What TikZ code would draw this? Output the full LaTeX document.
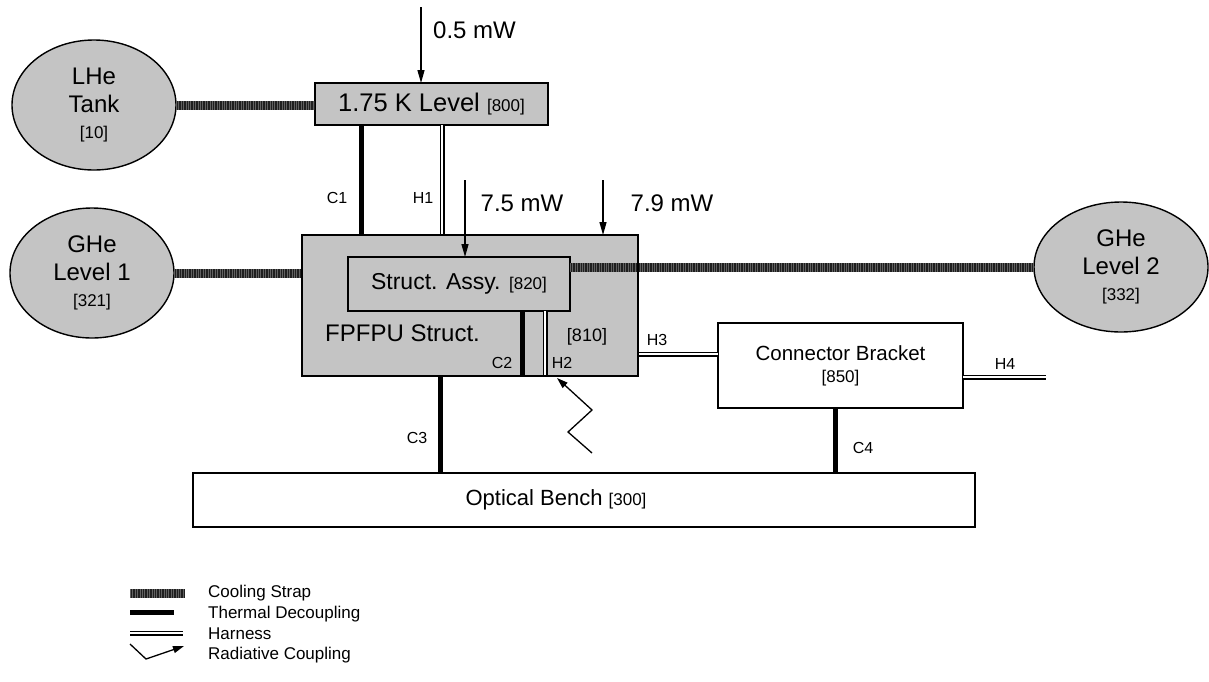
\documentclass[tikz,border=0pt]{standalone}
\usepackage{fontspec}
\setmainfont{Liberation Sans}
\usetikzlibrary{shapes.geometric,arrows.meta,calc}
\begin{document}
\begin{tikzpicture}[x=1pt,y=-1pt,
  boxfill/.style={draw,line width=1.4pt,fill=black!23,inner sep=0pt,outer sep=0pt},
  whitebox/.style={draw,line width=1.4pt,fill=white,inner sep=0pt,outer sep=0pt},
  ell/.style={ellipse,draw,line width=1.4pt,fill=black!23,inner sep=0pt,outer sep=0pt,align=center,
    font=\fontsize{24}{28}\selectfont},
  big/.style={font=\fontsize{24}{28}\selectfont},
  mid/.style={font=\fontsize{20.5}{24}\selectfont},
  lbl/.style={font=\fontsize{16}{18}\selectfont,inner sep=0pt},
  leg/.style={font=\fontsize{17}{19}\selectfont,inner sep=0pt,anchor=west},
  strap/.style={line width=9pt,draw=black!88},
  strapt/.style={line width=9pt,draw=black!62,dash pattern=on 0.8pt off 1.6pt},
  therm/.style={line width=5pt,draw=black},
  harn/.style={double,line width=1.2pt,double distance=2.6pt,draw=black},
  heat/.style={line width=1.3pt,-{Triangle[length=13pt,width=7pt]}},
  rad/.style={line width=1.3pt,-{Triangle[length=11pt,width=7pt]}}
]
\newcommand{\sm}{\fontsize{17}{19}\selectfont}
\useasboundingbox (0,0) rectangle (1209,681);

% ---- nodes ----
\node[ell,minimum width=164,minimum height=130] (lhe) at (94,105) {LHe\\Tank\\[-2pt]{\sm [10]}};
\node[ell,minimum width=164,minimum height=130] (ghe1) at (92,273) {GHe\\Level 1\\[-2pt]{\sm [321]}};
\node[ell,minimum width=174,minimum height=130] (ghe2) at (1121,267) {GHe\\Level 2\\[-2pt]{\sm [332]}};

\node[boxfill,minimum width=233,minimum height=42,font=\fontsize{25.5}{28}\selectfont] (k175) at (431.5,104) {1.75 K Level {\sm [800]}};
\node[boxfill,minimum width=336,minimum height=141] (fpfpu) at (470,305.5) {};
\node[boxfill,minimum width=222,minimum height=54,font=\fontsize{23}{27}\selectfont] (sa) at (459,284) {Struct. Assy. {\sm [820]}};
\node[whitebox,minimum width=245,minimum height=85,align=center,mid] (cb) at (840.5,365.5)
  {Connector Bracket\\[-2pt]{\sm [850]}};
\node[whitebox,minimum width=782,minimum height=54] (ob) at (584,500) {};

\node[big,anchor=west,inner sep=0pt] (fpt) at (325,333) {FPFPU Struct.};
\node[font=\fontsize{18}{20}\selectfont,inner sep=0pt] (t810) at (587,337) {[810]};
\node[font=\fontsize{22}{24}\selectfont,inner sep=0pt] (obt) at (556,500) {Optical Bench {\sm [300]}};

% ---- cooling straps ----
\draw[strap] (lhe.east) -- (lhe.east -| k175.west);
\draw[strapt] (lhe.east) -- (lhe.east -| k175.west);
\draw[strap] (ghe1.east) -- (ghe1.east -| fpfpu.west);
\draw[strapt] (ghe1.east) -- (ghe1.east -| fpfpu.west);
\draw[strap] (sa.east |- ghe2.west) -- (ghe2.west);
\draw[strapt] (sa.east |- ghe2.west) -- (ghe2.west);

% ---- couplings ----
\coordinate (c1x) at (361,0);
\coordinate (h1x) at (442,0);
\coordinate (c2x) at (522,0);
\coordinate (h2x) at (545,0);
\coordinate (c3x) at (440,0);
\coordinate (c4x) at (835,0);
\coordinate (h3y) at (0,354);
\coordinate (h4e) at (1046,377);

\draw[therm] (k175.south -| c1x) -- (fpfpu.north -| c1x);
\draw[harn] (k175.south -| h1x) -- (fpfpu.north -| h1x);
\draw[therm] (sa.south -| c2x) -- (fpfpu.south -| c2x);
\draw[harn] (sa.south -| h2x) -- (fpfpu.south -| h2x);
\draw[therm] (fpfpu.south -| c3x) -- (ob.north -| c3x);
\draw[harn] (fpfpu.east |- h3y) -- (cb.west |- h3y);
\draw[harn] (cb.east |- h4e) -- (h4e);
\draw[therm] (cb.south -| c4x) -- (ob.north -| c4x);

% ---- redraw box outline over lines ----
\draw[line width=1.4pt] (fpfpu.north west) rectangle (fpfpu.south east);

% ---- labels ----
\node[lbl] (lc1) at (337,198) {C1};
\node[lbl] (lh1) at (423,198) {H1};
\node[lbl] (lc2) at (502,363) {C2};
\node[lbl] (lh2) at (562,363) {H2};
\node[lbl] (lc3) at (417,438) {C3};
\node[lbl] (lh3) at (657,340) {H3};
\node[lbl] (lh4) at (1005,364) {H4};
\node[lbl] (lc4) at (863,448) {C4};

% ---- heat loads ----
\coordinate (q05) at (421,7);
\coordinate (q75) at (465,180);
\coordinate (q79) at (603,180);
\draw[heat] (q05) -- (q05 |- k175.north);
\draw[heat] (q75) -- (q75 |- sa.north);
\draw[heat] (q79) -- (q79 |- fpfpu.north);
\node[big,anchor=west,inner sep=0pt] (t05) at (433,30) {0.5 mW};
\node[big,inner sep=0pt] (t75) at (522,203) {7.5 mW};
\node[big,inner sep=0pt] (t79) at (672,203) {7.9 mW};

% ---- radiative coupling ----
\coordinate (r0) at (592,453);
\coordinate (r1) at (568,432);
\coordinate (r2) at (592,410);
\coordinate (r3) at (557,378);
\draw[rad] (r0) -- (r1) -- (r2) -- (r3);

% ---- legend ----
\coordinate (g1) at (130,593);
\coordinate (g2) at (130,612);
\coordinate (g3) at (130,633);
\coordinate (g4) at (130,644);
\draw[strap] (g1) -- ++(55,0);
\draw[strapt] (g1) -- ++(55,0);
\draw[therm] (g2) -- ++(44,0);
\draw[harn] (g3) -- ++(53,0);
\draw[rad] (g4) -- ++(16,15) -- ++(38,-13);
\node[leg] (lg1) at (208,593) {Cooling Strap};
\node[leg] (lg2) at (208,614) {Thermal Decoupling};
\node[leg] (lg3) at (208,634) {Harness};
\node[leg] (lg4) at (208,655) {Radiative Coupling};
\end{tikzpicture}
\end{document}
